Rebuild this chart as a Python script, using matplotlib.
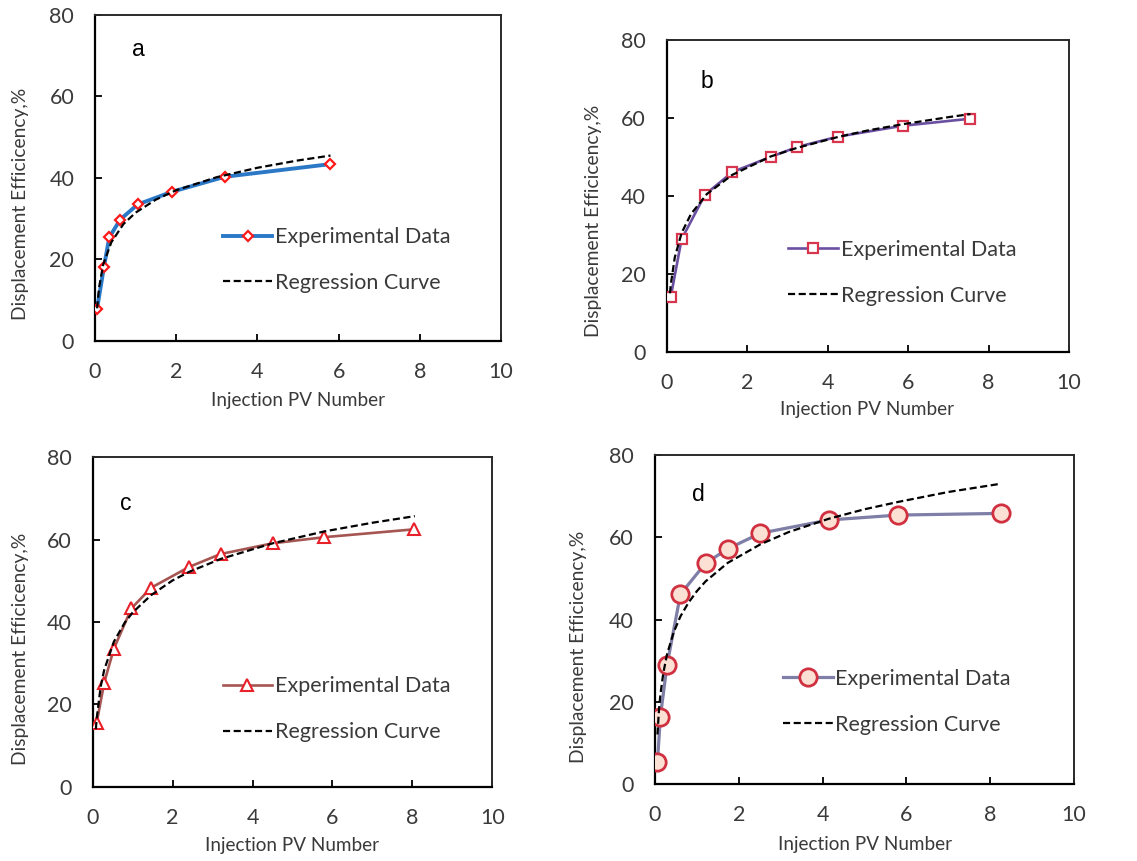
import matplotlib
matplotlib.use("Agg")
import matplotlib.pyplot as plt

# ---------------- data ----------------
# Panel a
a_pv = [0.05, 0.22, 0.35, 0.62, 1.05, 1.89, 3.20, 5.80]
a_eff = [7.9, 18.2, 25.4, 29.8, 33.5, 36.6, 40.3, 43.4]
a_reg_pv = [0.05, 0.1, 0.2, 0.4, 0.7, 1.0, 1.5, 2.0, 3.0, 4.0, 5.0, 5.8]
a_reg_eff = [8.0, 13.2, 18.7, 24.2, 28.7, 31.5, 34.7, 37.0, 40.2, 42.5, 44.3, 45.5]

# Panel b
b_pv = [0.10, 0.37, 0.95, 1.63, 2.58, 3.23, 4.25, 5.87, 7.54]
b_eff = [14.1, 28.9, 40.3, 46.1, 50.0, 52.5, 55.2, 58.0, 59.8]
b_reg_pv = [0.08, 0.1, 0.2, 0.37, 0.6, 1.0, 1.63, 2.58, 3.23, 4.25, 5.0, 5.87, 7.0, 7.55]
b_reg_eff = [15.0, 17.2, 24.2, 30.5, 35.3, 40.5, 45.4, 50.1, 52.3, 55.1, 56.8, 58.4, 60.2, 61.0]

# Panel c
c_pv = [0.10, 0.29, 0.53, 0.97, 1.46, 2.42, 3.20, 4.50, 5.80, 8.04]
c_eff = [15.5, 25.3, 33.5, 43.3, 48.3, 53.4, 56.5, 59.1, 60.6, 62.5]
c_reg_pv = [0.08, 0.1, 0.2, 0.29, 0.53, 0.8, 1.0, 1.46, 2.0, 2.42, 3.2, 4.5, 5.8, 7.0, 8.06]
c_reg_eff = [14.0, 16.5, 24.3, 28.4, 35.2, 39.8, 42.3, 46.5, 50.1, 52.2, 55.3, 59.1, 62.0, 64.1, 65.7]

# Panel d
d_pv = [0.06, 0.13, 0.29, 0.61, 1.21, 1.74, 2.52, 4.15, 5.81, 8.25]
d_eff = [5.3, 16.4, 29.0, 46.2, 53.7, 57.2, 61.0, 64.2, 65.4, 65.8]
d_reg_pv = [0.06, 0.1, 0.13, 0.2, 0.29, 0.45, 0.61, 0.8, 1.0, 1.21, 1.74, 2.52, 3.2, 4.15, 5.0, 5.81, 7.0, 8.25]
d_reg_eff = [12.1, 18.5, 21.7, 27.0, 31.6, 37.0, 40.8, 44.1, 46.9, 49.3, 53.8, 58.3, 61.3, 64.5, 66.8, 68.6, 71.0, 73.0]

x_ticks = [0, 2, 4, 6, 8, 10]
y_ticks = [0, 20, 40, 60, 80]
panel_labels = ["a", "b", "c", "d"]
series_label = "Experimental Data"
reg_label = "Regression Curve"
x_label = "Injection PV Number"
y_label = "Displacement Efficicency,%"

# ---------------- styles ----------------
TXT = "#3a3a3a"
FONT = ["Lato", "DejaVu Sans"]

panels = [
    dict(pv=a_pv, eff=a_eff, rpv=a_reg_pv, reff=a_reg_eff,
         rect=[0.0836, 0.604, 0.357, 0.3786],
         lc="#2a78c6", lw=2.8, marker="D", ms=5.5, mfc="white", mec="#ff1a1a", mew=1.6,
         letter=(0.106, 0.893), leg=(0.315, 0.248),
         ylab=(-0.163, 0.42), xlab=(0.5, -0.158)),
    dict(pv=b_pv, eff=b_eff, rpv=b_reg_pv, reff=b_reg_eff,
         rect=[0.5864, 0.5915, 0.3538, 0.362],
         lc="#6b4fa0", lw=1.9, marker="s", ms=6.5, mfc="white", mec="#d8354f", mew=1.6,
         letter=(0.0995, 0.866), leg=(0.3025, 0.253),
         ylab=(-0.161, 0.42), xlab=(0.4975, -0.157)),
    dict(pv=c_pv, eff=c_eff, rpv=c_reg_pv, reff=c_reg_eff,
         rect=[0.0815, 0.0863, 0.3515, 0.3826],
         lc="#a55552", lw=1.9, marker="^", ms=8.5, mfc="white", mec="#e8202a", mew=1.5,
         letter=(0.083, 0.86), leg=(0.325, 0.235),
         ylab=(-0.159, 0.418), xlab=(0.498, -0.154)),
    dict(pv=d_pv, eff=d_eff, rpv=d_reg_pv, reff=d_reg_eff,
         rect=[0.576, 0.0891, 0.3685, 0.3825],
         lc="#7f7ea6", lw=2.3, marker="o", ms=12.5, mfc="#fde0d4", mec="#d0303f", mew=2.0,
         letter=(0.103, 0.879), leg=(0.306, 0.251),
         ylab=(-0.162, 0.418), xlab=(0.501, -0.156)),
]

fig = plt.figure(figsize=(11.37, 8.61), dpi=100)
fig.patch.set_facecolor("white")

for p, letter in zip(panels, panel_labels):
    ax = fig.add_axes(p["rect"])
    ax.plot(p["pv"], p["eff"], color=p["lc"], lw=p["lw"], marker=p["marker"],
            ms=p["ms"], mfc=p["mfc"], mec=p["mec"], mew=p["mew"],
            label=series_label, zorder=3)
    ax.plot(p["rpv"], p["reff"], color="black", lw=1.6, ls=(0, (3.2, 1.6)),
            label=reg_label, zorder=4)
    ax.set_xlim(0, 10)
    ax.set_ylim(0, 80)
    ax.set_xticks(x_ticks)
    ax.set_yticks(y_ticks)
    ax.tick_params(direction="in", length=5, width=1.3, colors="black",
                   labelcolor=TXT, labelsize=15.5, pad=15,
                   top=False, right=False)
    for lab in ax.get_xticklabels() + ax.get_yticklabels():
        lab.set_family(FONT)
    for s in ["left", "bottom"]:
        ax.spines[s].set_linewidth(1.6)
        ax.spines[s].set_color("black")
    for s in ["top", "right"]:
        ax.spines[s].set_linewidth(1.4)
        ax.spines[s].set_color("#2a2a2a")
    ax.set_xlabel(x_label, fontsize=13.6, color=TXT, family=FONT)
    ax.set_ylabel(y_label, fontsize=13.9, color=TXT, family=FONT)
    ax.xaxis.set_label_coords(*p["xlab"])
    ax.yaxis.set_label_coords(*p["ylab"])
    ax.text(p["letter"][0], p["letter"][1], letter, transform=ax.transAxes,
            fontsize=16.5, family=["Liberation Sans", "DejaVu Sans"], color="black",
            ha="center", va="center")
    leg = ax.legend(loc="center left", bbox_to_anchor=p["leg"], frameon=False,
                    borderaxespad=0, borderpad=0, handlelength=2.3,
                    handletextpad=0.12, labelspacing=1.2,
                    prop={"family": FONT, "size": 15.5})
    for t in leg.get_texts():
        t.set_color(TXT)

fig.savefig("out.png", dpi=100, facecolor="white")
